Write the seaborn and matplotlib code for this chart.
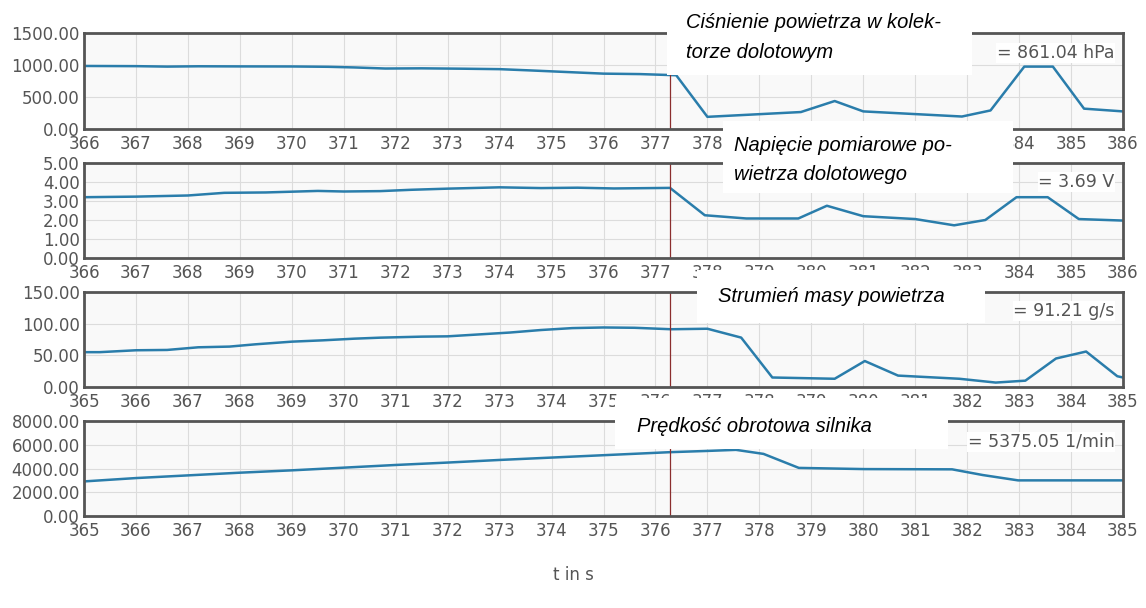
import numpy as np
import pandas as pd
import matplotlib.pyplot as plt
from matplotlib.patches import Rectangle
from matplotlib.ticker import FormatStrFormatter
import seaborn as sns

# === Data ===
t_pressure = [366.0, 367.0, 367.6, 368.2, 369.0, 370.0, 370.7, 371.2, 371.8, 372.5, 373.3,
              374.0, 374.6, 375.3, 376.0, 376.7, 377.4, 378.0, 379.8, 380.45, 381.0, 382.9,
              383.45, 384.1, 384.65, 385.25, 386.0]
pressure = [985, 982, 975, 980, 978, 977, 972, 962, 945, 948, 942,
            935, 915, 890, 865, 858, 840, 190, 265, 437, 275, 195,
            290, 975, 975, 318, 275]

t_voltage = [366.0, 367.0, 368.0, 368.7, 369.5, 370.5, 371.0, 371.7, 372.3, 373.0, 374.0,
             374.8, 375.5, 376.2, 377.28, 377.95, 378.75, 379.75, 380.3, 381.0, 382.0,
             382.75, 383.35, 383.95, 384.55, 385.15, 386.0]
voltage = [3.20, 3.23, 3.29, 3.43, 3.45, 3.53, 3.50, 3.52, 3.59, 3.65, 3.72,
           3.68, 3.70, 3.66, 3.69, 2.25, 2.08, 2.08, 2.75, 2.20, 2.05,
           1.72, 2.00, 3.20, 3.20, 2.05, 1.97]

t_flow = [365.0, 365.3, 366.0, 366.6, 367.2, 367.8, 368.3, 369.0, 369.6, 370.2, 370.7,
          371.5, 372.0, 372.6, 373.2, 373.8, 374.4, 375.0, 375.6, 376.3, 377.0, 377.65,
          378.25, 379.45, 380.03, 380.67, 381.85, 382.55, 383.12, 383.71, 384.29, 384.89, 385.0]
flow = [55, 55, 58, 58.5, 62.7, 63.8, 67.4, 71.6, 73.7, 76.3, 77.9,
        79.5, 80, 83, 86, 90, 93, 94, 93.5, 91.2, 92, 78,
        15, 13, 41, 18, 13, 7, 10, 45, 56, 17, 15]

t_rpm = [365.0, 366.0, 367.0, 368.0, 369.0, 370.0, 371.0, 372.0, 373.0, 374.0, 375.0,
         376.28, 377.0, 377.55, 378.08, 378.76, 380.03, 381.71, 382.3, 382.98, 385.0]
rpm = [2912, 3194, 3420, 3647, 3845, 4071, 4297, 4500, 4720, 4920, 5120,
       5375, 5480, 5570, 5230, 4050, 3950, 3930, 3450, 3000, 3000]

cursor_top = 377.28
cursor_bottom = 376.28

titles = [["Ciśnienie powietrza w kolek-", "torze dolotowym"],
          ["Napięcie pomiarowe po-", "wietrza dolotowego"],
          ["Strumień masy powietrza"],
          ["Prędkość obrotowa silnika"]]
readouts = ["= 861.04 hPa", "= 3.69 V", "= 91.21 g/s", "= 5375.05 1/min"]

# === Settings ===
sns.set_style("whitegrid")
plt.rcParams['font.family'] = ['DejaVu Sans']

W, H = 1146, 608
fig = plt.figure(figsize=(W / 100, H / 100), dpi=100)


def fx(x):
    return x / W


def fy(y):
    return 1 - y / H


line_color = "#2a7dab"
tick_color = "#555555"

# data, x range, y ticks, cursor, top px, bottom px, readout offset px
panels = [
    (t_pressure, pressure, (366, 386), [0, 500, 1000, 1500], cursor_top, 33, 129, 20),
    (t_voltage, voltage, (366, 386), [0, 1, 2, 3, 4, 5], cursor_top, 163, 258, 19),
    (t_flow, flow, (365, 385), [0, 50, 100, 150], cursor_bottom, 292, 387, 19),
    (t_rpm, rpm, (365, 385), [0, 2000, 4000, 6000, 8000], cursor_bottom, 421, 516, 21),
]

for i, (tx, vals, xlim, yticks, cur, top, bot, off) in enumerate(panels):
    ax = fig.add_axes([fx(84), fy(bot), fx(1123) - fx(84), (bot - top) / H])
    df = pd.DataFrame({"t": tx, "v": vals})
    sns.lineplot(data=df, x="t", y="v", ax=ax, color=line_color, linewidth=1.8)
    ax.axvline(cur, color="#8b2e2e", linewidth=0.9)
    ax.set_xlim(*xlim)
    ax.set_ylim(yticks[0], yticks[-1])
    ax.set_xticks(np.arange(xlim[0], xlim[1] + 1, 1))
    ax.set_yticks(yticks)
    ax.yaxis.set_major_formatter(FormatStrFormatter("%.2f"))
    ax.set_xlabel("")
    ax.set_ylabel("")
    ax.set_facecolor("#f9f9f9")
    ax.grid(True, color="#dcdcdc", linewidth=0.8)
    for s in ax.spines.values():
        s.set_color("#555555")
        s.set_linewidth(2)
    ax.tick_params(axis="both", length=0, labelsize=12, colors=tick_color)
    ax.tick_params(axis="x", pad=4)
    ax.tick_params(axis="y", pad=3)
    ax.text(0.992, 1 - off / (bot - top), readouts[i], transform=ax.transAxes,
            ha="right", va="center", fontsize=12.5, color=tick_color, zorder=5,
            bbox=dict(facecolor="white", edgecolor="none", pad=0.5))

# === White overlay boxes with the Polish captions ===
boxes = [
    (667, 0, 972, 75, 686, [22, 52]),
    (723, 121, 1013, 193, 734, [146, 175]),
    (697, 270, 985, 323, 718, [297]),
    (615, 398, 948, 449, 637, [426]),
]
for (x0, y0, x1, y1, tx0, ys), lines in zip(boxes, titles):
    fig.patches.append(Rectangle((fx(x0), fy(y1)), fx(x1) - fx(x0), (y1 - y0) / H,
                                 transform=fig.transFigure, facecolor="white",
                                 edgecolor="none", zorder=10))
    for line, yy in zip(lines, ys):
        fig.text(fx(tx0), fy(yy), line, ha="left", va="center", fontsize=14.5,
                 style="italic", family=["Liberation Sans", "DejaVu Sans"],
                 color="black", zorder=11)

fig.text(fx(573), fy(575), "t in s", ha="center", va="center", fontsize=12, color=tick_color)

fig.savefig("out.png", dpi=100)
plt.close(fig)
